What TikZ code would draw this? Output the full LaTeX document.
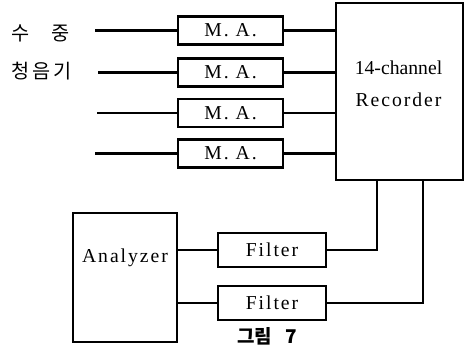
\documentclass[tikz,border=0pt]{standalone}
\usepackage{fontspec}
\setmainfont{Liberation Serif}
\newfontfamily\kor{Noto Sans CJK KR}
\newfontfamily\spaced[LetterSpace=10]{Liberation Serif}

\tikzset{
    box node/.style={draw,line width=1.8pt,inner sep=0},
    ma node/.style={box node,minimum width=2.625cm,minimum height=0.7cm,font=\fontsize{14}{16}\spaced},
    filter node/.style={box node,minimum width=2.7cm,minimum height=0.85cm,font=\fontsize{14}{16}\spaced},
    big node/.style={box node},
    label text/.style={inner sep=0,font=\fontsize{14}{16}\selectfont},
    wire/.style={line width=1.6pt}
    }

\begin{document}
\begin{tikzpicture}[x=0.025cm,y=-0.025cm]
    \useasboundingbox (0,0) rectangle (464,347);
    \node(rec)[big node,minimum width=3.175cm,minimum height=4.425cm] at (399.5,91.5) {};
    \node(rectext)[label text,align=center] at (398.5,84) {14-channel\\[7pt]{\spaced Recorder}};
    \node(hydro1)[inner sep=0,anchor=west,font=\kor\fontsize{14}{16}\selectfont] at (11,33) {수\hspace{16pt}중};
    \node(hydro2)[inner sep=0,anchor=west,font=\kor\fontsize{14}{16}\selectfont] at (11,71) {청\hspace{2pt}음\hspace{2pt}기};
    \foreach \i/\y/\x in {1/30.5/95,2/72.5/98,3/113/97,4/153.5/95} {
        \node(ma\i)[ma node] at (230.5,\y) {M. A.};
        \coordinate (in\i) at (\x,\y);
        \draw[wire] (in\i) -- (ma\i.west);
        \draw[wire] (ma\i.east) -- (ma\i.east -| rec.west);
    }
    \node(ana)[big node,minimum width=2.6cm,minimum height=3.225cm] at (125,277.5) {};
    \node(anatext)[label text,font=\fontsize{14}{16}\spaced] at (125,258) {Analyzer};
    \node(fil1)[filter node] at (272,250) {Filter};
    \node(fil2)[filter node] at (272,303) {Filter};
    \coordinate (leg1) at (377,180);
    \coordinate (leg2) at (423,180);
    \draw[wire] (ana.east |- fil1) -- (fil1.west);
    \draw[wire] (ana.east |- fil2) -- (fil2.west);
    \draw[wire] (fil1.east) -| (leg1);
    \draw[wire] (fil2.east) -| (leg2);
    \node(cap)[inner sep=0,font=\kor\bfseries\fontsize{13.5}{15}\selectfont] at (267,336) {그림\hspace{9pt}7};
\end{tikzpicture}
\end{document}
